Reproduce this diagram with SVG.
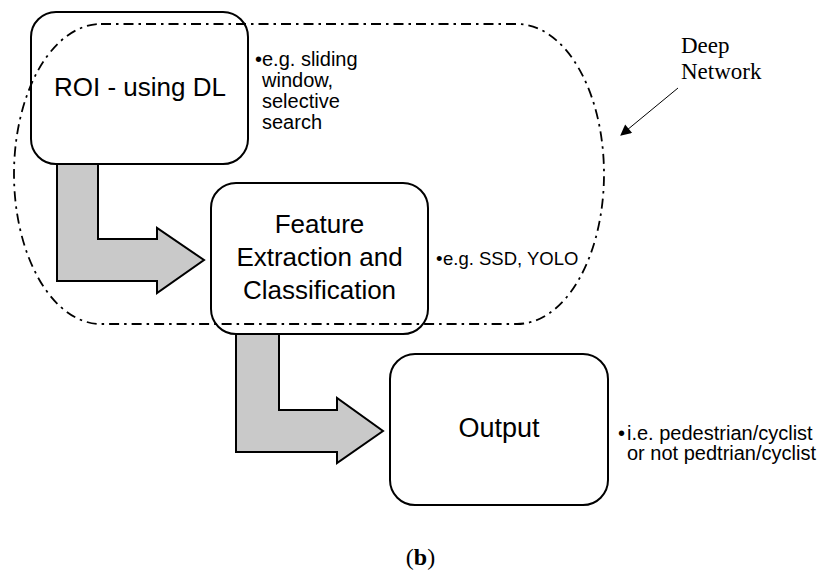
<svg xmlns="http://www.w3.org/2000/svg" width="824" height="572" viewBox="0 0 824 572">
<style>
.box{fill:#fff;stroke:#000;stroke-width:2}
.big{font-family:"Liberation Sans",Arial,sans-serif;font-size:26px;fill:#000;text-anchor:middle}
.note{font-family:"Liberation Sans",Arial,sans-serif;font-size:20px;fill:#000}
.serif{font-family:"Liberation Serif","Times New Roman",serif;fill:#000}
.flow{fill:#c9c9c9;stroke:#000;stroke-width:2;stroke-linejoin:miter}
.dash{fill:none;stroke:#000;stroke-width:1.8;stroke-dasharray:10 5 2.5 5}
</style>
<defs>
<marker id="ah" viewBox="0 0 10 10" refX="9" refY="5" markerWidth="13" markerHeight="11" markerUnits="userSpaceOnUse" orient="auto">
<path d="M0,0 L10,5 L0,10 Z" fill="#000"/>
</marker>
</defs>
<rect width="824" height="572" fill="#fff"/>
<g id="connectors">
<path class="flow" d="M57,164 H98 V239 H157 V228 L204,260 L157,293 V281 H57 Z"/>
<path class="flow" d="M236,334 H279 V410 H337 V398 L383,431 L337,463 V452 H236 Z"/>
<line x1="678" y1="88" x2="621" y2="135" stroke="#000" stroke-width="1" marker-end="url(#ah)"/>
</g>
<g id="roi">
<rect class="box" x="31" y="12" width="217" height="152" rx="25" ry="25"/>
<text class="big" x="140" y="96">ROI - using DL</text>
</g>
<g id="roi-note">
<text class="note"><tspan x="255" y="66">•</tspan><tspan x="262" y="66">e.g. sliding</tspan><tspan x="262" y="87">window,</tspan><tspan x="262" y="108">selective</tspan><tspan x="262" y="129">search</tspan></text>
</g>
<g id="feature">
<rect class="box" x="211" y="183" width="217" height="151" rx="25" ry="25"/>
<text class="big" x="319.5" y="233">Feature</text>
<text class="big" x="319.5" y="266">Extraction and</text>
<text class="big" x="319.5" y="299">Classification</text>
</g>
<g id="feature-note">
<text class="note" style="font-size:18.5px"><tspan x="436" y="265">•</tspan><tspan x="443" y="265">e.g. SSD, YOLO</tspan></text>
</g>
<g id="output">
<rect class="box" x="390" y="354" width="218" height="151" rx="25" ry="25"/>
<text class="big" x="499" y="437" style="font-size:27px">Output</text>
</g>
<g id="output-note">
<text class="note"><tspan x="618" y="440">•</tspan><tspan x="627" y="440">i.e. pedestrian/cyclist</tspan><tspan x="627" y="460">or not pedtrian/cyclist</tspan></text>
</g>
<g id="deep-network">
<rect class="dash" x="14" y="24" width="590" height="300" rx="87" ry="150"/>
<text class="serif" style="font-size:23px"><tspan x="681" y="53">Deep</tspan><tspan x="681" y="79">Network</tspan></text>
</g>
<g id="caption">
<text class="serif" x="420.5" y="565" style="font-size:24px;text-anchor:middle">(<tspan font-weight="bold">b</tspan>)</text>
</g>
</svg>
